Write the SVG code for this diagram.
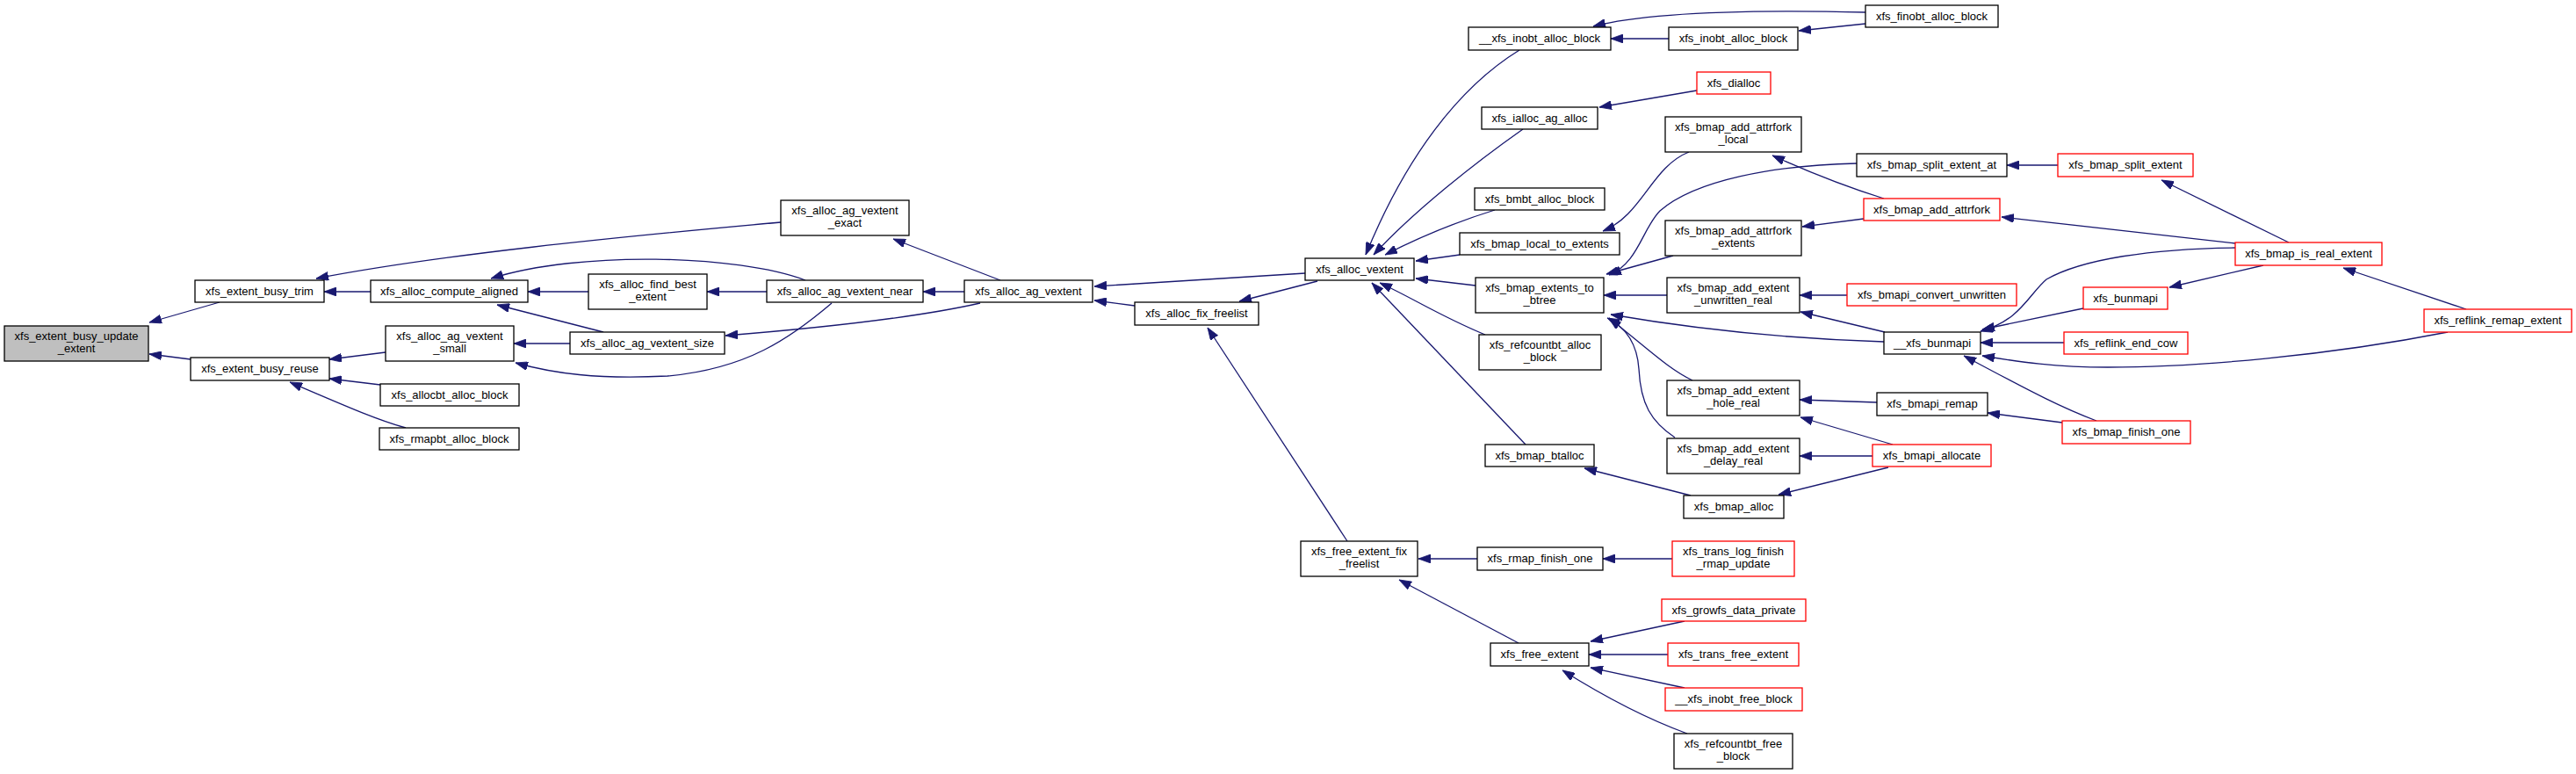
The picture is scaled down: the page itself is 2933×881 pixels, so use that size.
<svg xmlns="http://www.w3.org/2000/svg" width="2933" height="881" viewBox="0 0 2933 881">
<style>
.n rect{fill:#fff;stroke:#000;stroke-width:1.3}
.r rect{stroke:#ff0000}
.g rect{fill:#bfbfbf}
text{font-family:"Liberation Sans",Arial,sans-serif;font-size:13px;fill:#000;text-anchor:middle}
#edges path{fill:none;stroke:#191970;stroke-width:1.3;marker-end:url(#ah)}
</style>
<defs>
<marker id="ah" markerUnits="userSpaceOnUse" markerWidth="14" markerHeight="10" viewBox="0 0 14 10" refX="14" refY="5" orient="auto">
<path d="M0,0 L14,5 L0,10 z" fill="#191970" stroke="#191970" stroke-width="0.8"/>
</marker>
</defs>
<rect width="2933" height="881" fill="#fff"/>
<g id="edges">
<path d="M250,344 L170,367"/>
<path d="M217,409 L170,403"/>
<path d="M422,332 L369,332"/>
<path d="M889,253 C700,270 500,290 360,317"/>
<path d="M670,332 L601,332"/>
<path d="M917,319 C840,290 660,285 559,317"/>
<path d="M687,378 L566,347"/>
<path d="M873,332 L805,332"/>
<path d="M649,391 L585,391"/>
<path d="M947,345 C900,385 850,420 760,428 C680,432 630,425 587,413"/>
<path d="M1098,332 L1051,332"/>
<path d="M1139,319 L1017,272"/>
<path d="M1116,345 C1050,360 950,372 826,382"/>
<path d="M439,401 L375,409"/>
<path d="M433,438 L375,431"/>
<path d="M462,487 C430,478 400,465 330,435"/>
<path d="M1292,348 L1246,342"/>
<path d="M1486,311 L1246,326"/>
<path d="M1500,320 L1411,343"/>
<path d="M1534,616 L1375,373"/>
<path d="M1730,57 C1660,100 1600,180 1555,290"/>
<path d="M1734,147 C1680,185 1610,240 1564,290"/>
<path d="M1702,239 C1660,252 1620,268 1577,290"/>
<path d="M1662,290 L1612,297"/>
<path d="M1680,325 L1612,317"/>
<path d="M1691,381 C1640,360 1610,340 1571,322"/>
<path d="M1737,506 L1562,322"/>
<path d="M2124,14 C2000,11 1880,13 1814,30"/>
<path d="M2124,27 L2048,35"/>
<path d="M1900,44 L1834,44"/>
<path d="M1932,103 L1821,122"/>
<path d="M1923,173 C1880,190 1870,245 1825,263"/>
<path d="M2145,226 C2100,212 2060,196 2018,177"/>
<path d="M2114,186 C2020,188 1930,205 1890,240 C1870,260 1865,300 1832,313"/>
<path d="M1905,291 L1829,312"/>
<path d="M1898,336 L1826,336"/>
<path d="M2145,389 C2050,386 1950,378 1834,358"/>
<path d="M1927,433 C1900,420 1880,400 1832,362"/>
<path d="M1907,498 C1880,480 1868,460 1866,420 C1864,390 1850,372 1830,362"/>
<path d="M1925,564 L1804,533"/>
<path d="M2122,249 L2052,258"/>
<path d="M2343,188 L2285,188"/>
<path d="M2606,276 L2461,205"/>
<path d="M2545,277 L2279,247"/>
<path d="M2103,336 L2049,336"/>
<path d="M2146,378 L2050,355"/>
<path d="M2545,282 C2450,283 2370,295 2330,318 C2310,335 2300,365 2255,377"/>
<path d="M2372,351 L2257,375"/>
<path d="M2350,390 L2255,390"/>
<path d="M2787,378 C2650,405 2500,418 2400,418 C2340,418 2300,412 2257,405"/>
<path d="M2387,479 C2350,465 2320,450 2236,405"/>
<path d="M2137,458 L2049,455"/>
<path d="M2155,506 L2050,475"/>
<path d="M2132,519 L2049,519"/>
<path d="M2150,532 L2025,563"/>
<path d="M2348,481 L2263,470"/>
<path d="M1682,636 L1615,636"/>
<path d="M1904,636 L1825,636"/>
<path d="M1729,732 L1593,660"/>
<path d="M1918,707 L1811,730"/>
<path d="M1899,745 L1809,745"/>
<path d="M1918,783 L1811,760"/>
<path d="M1921,835 C1880,820 1830,795 1779,763"/>
<path d="M2577,302 L2470,327"/>
<path d="M2808,352 L2668,305"/>
</g>
<g id="n1" class="n g"><rect x="5" y="371" width="164" height="40"/><text x="87" y="387">xfs_extent_busy_update</text><text x="87" y="401">_extent</text></g>
<g id="n2" class="n"><rect x="222" y="319" width="147" height="25"/><text x="295.5" y="336">xfs_extent_busy_trim</text></g>
<g id="n3" class="n"><rect x="217" y="407" width="158" height="26"/><text x="296" y="424">xfs_extent_busy_reuse</text></g>
<g id="n4" class="n"><rect x="422" y="319" width="179" height="25"/><text x="511.5" y="336">xfs_alloc_compute_aligned</text></g>
<g id="n5" class="n"><rect x="670" y="312" width="135" height="40"/><text x="737.5" y="328">xfs_alloc_find_best</text><text x="737.5" y="342">_extent</text></g>
<g id="n6" class="n"><rect x="439" y="371" width="146" height="40"/><text x="512" y="387">xfs_alloc_ag_vextent</text><text x="512" y="401">_small</text></g>
<g id="n7" class="n"><rect x="649" y="378" width="176" height="25"/><text x="737" y="395">xfs_alloc_ag_vextent_size</text></g>
<g id="n8" class="n"><rect x="433" y="437" width="158" height="25"/><text x="512" y="454">xfs_allocbt_alloc_block</text></g>
<g id="n9" class="n"><rect x="432" y="487" width="159" height="25"/><text x="511.5" y="504">xfs_rmapbt_alloc_block</text></g>
<g id="n10" class="n"><rect x="889" y="228" width="146" height="40"/><text x="962" y="244">xfs_alloc_ag_vextent</text><text x="962" y="258">_exact</text></g>
<g id="n11" class="n"><rect x="873" y="319" width="178" height="25"/><text x="962" y="336">xfs_alloc_ag_vextent_near</text></g>
<g id="n12" class="n"><rect x="1098" y="319" width="146" height="25"/><text x="1171" y="336">xfs_alloc_ag_vextent</text></g>
<g id="n13" class="n"><rect x="1292" y="344" width="141" height="26"/><text x="1362.5" y="361">xfs_alloc_fix_freelist</text></g>
<g id="n14" class="n"><rect x="1486" y="294" width="124" height="25"/><text x="1548" y="311">xfs_alloc_vextent</text></g>
<g id="n15" class="n"><rect x="1672" y="31" width="162" height="26"/><text x="1753" y="48">__xfs_inobt_alloc_block</text></g>
<g id="n16" class="n"><rect x="1687" y="122" width="132" height="25"/><text x="1753" y="139">xfs_ialloc_ag_alloc</text></g>
<g id="n17" class="n"><rect x="1679" y="214" width="148" height="25"/><text x="1753" y="231">xfs_bmbt_alloc_block</text></g>
<g id="n18" class="n"><rect x="1662" y="265" width="182" height="25"/><text x="1753" y="282">xfs_bmap_local_to_extents</text></g>
<g id="n19" class="n"><rect x="1680" y="316" width="146" height="40"/><text x="1753" y="332">xfs_bmap_extents_to</text><text x="1753" y="346">_btree</text></g>
<g id="n20" class="n"><rect x="1684" y="381" width="139" height="40"/><text x="1753.5" y="397">xfs_refcountbt_alloc</text><text x="1753.5" y="411">_block</text></g>
<g id="n21" class="n"><rect x="1691" y="506" width="124" height="25"/><text x="1753" y="523">xfs_bmap_btalloc</text></g>
<g id="n22" class="n"><rect x="1481" y="616" width="133" height="40"/><text x="1547.5" y="632">xfs_free_extent_fix</text><text x="1547.5" y="646">_freelist</text></g>
<g id="n23" class="n"><rect x="1682" y="623" width="143" height="26"/><text x="1753.5" y="640">xfs_rmap_finish_one</text></g>
<g id="n24" class="n"><rect x="1697" y="732" width="112" height="26"/><text x="1753" y="749">xfs_free_extent</text></g>
<g id="n25" class="n"><rect x="2124" y="6" width="151" height="25"/><text x="2199.5" y="23">xfs_finobt_alloc_block</text></g>
<g id="n26" class="n"><rect x="1900" y="31" width="147" height="26"/><text x="1973.5" y="48">xfs_inobt_alloc_block</text></g>
<g id="n27" class="n r"><rect x="1932" y="82" width="84" height="25"/><text x="1974" y="99">xfs_dialloc</text></g>
<g id="n28" class="n"><rect x="1896" y="133" width="155" height="40"/><text x="1973.5" y="149">xfs_bmap_add_attrfork</text><text x="1973.5" y="163">_local</text></g>
<g id="n29" class="n"><rect x="2114" y="175" width="171" height="26"/><text x="2199.5" y="192">xfs_bmap_split_extent_at</text></g>
<g id="n30" class="n r"><rect x="2343" y="175" width="154" height="26"/><text x="2420" y="192">xfs_bmap_split_extent</text></g>
<g id="n31" class="n r"><rect x="2122" y="226" width="155" height="25"/><text x="2199.5" y="243">xfs_bmap_add_attrfork</text></g>
<g id="n32" class="n"><rect x="1896" y="251" width="155" height="40"/><text x="1973.5" y="267">xfs_bmap_add_attrfork</text><text x="1973.5" y="281">_extents</text></g>
<g id="n33" class="n"><rect x="1898" y="316" width="151" height="40"/><text x="1973.5" y="332">xfs_bmap_add_extent</text><text x="1973.5" y="346">_unwritten_real</text></g>
<g id="n34" class="n r"><rect x="2103" y="323" width="193" height="25"/><text x="2199.5" y="340">xfs_bmapi_convert_unwritten</text></g>
<g id="n35" class="n r"><rect x="2372" y="327" width="96" height="25"/><text x="2420" y="344">xfs_bunmapi</text></g>
<g id="n36" class="n"><rect x="2145" y="378" width="110" height="25"/><text x="2200" y="395">__xfs_bunmapi</text></g>
<g id="n37" class="n r"><rect x="2350" y="378" width="141" height="25"/><text x="2420.5" y="395">xfs_reflink_end_cow</text></g>
<g id="n38" class="n r"><rect x="2545" y="276" width="167" height="26"/><text x="2628.5" y="293">xfs_bmap_is_real_extent</text></g>
<g id="n39" class="n r"><rect x="2760" y="352" width="168" height="26"/><text x="2844" y="369">xfs_reflink_remap_extent</text></g>
<g id="n40" class="n"><rect x="1898" y="433" width="151" height="40"/><text x="1973.5" y="449">xfs_bmap_add_extent</text><text x="1973.5" y="463">_hole_real</text></g>
<g id="n41" class="n"><rect x="2137" y="447" width="126" height="26"/><text x="2200" y="464">xfs_bmapi_remap</text></g>
<g id="n42" class="n r"><rect x="2348" y="479" width="146" height="26"/><text x="2421" y="496">xfs_bmap_finish_one</text></g>
<g id="n43" class="n"><rect x="1898" y="499" width="151" height="40"/><text x="1973.5" y="515">xfs_bmap_add_extent</text><text x="1973.5" y="529">_delay_real</text></g>
<g id="n44" class="n r"><rect x="2132" y="506" width="135" height="25"/><text x="2199.5" y="523">xfs_bmapi_allocate</text></g>
<g id="n45" class="n"><rect x="1917" y="564" width="114" height="26"/><text x="1974" y="581">xfs_bmap_alloc</text></g>
<g id="n46" class="n r"><rect x="1904" y="616" width="139" height="40"/><text x="1973.5" y="632">xfs_trans_log_finish</text><text x="1973.5" y="646">_rmap_update</text></g>
<g id="n47" class="n r"><rect x="1892" y="682" width="164" height="25"/><text x="1974" y="699">xfs_growfs_data_private</text></g>
<g id="n48" class="n r"><rect x="1899" y="732" width="149" height="26"/><text x="1973.5" y="749">xfs_trans_free_extent</text></g>
<g id="n49" class="n r"><rect x="1896" y="783" width="156" height="26"/><text x="1974" y="800">__xfs_inobt_free_block</text></g>
<g id="n50" class="n"><rect x="1906" y="835" width="135" height="40"/><text x="1973.5" y="851">xfs_refcountbt_free</text><text x="1973.5" y="865">_block</text></g>
</svg>
